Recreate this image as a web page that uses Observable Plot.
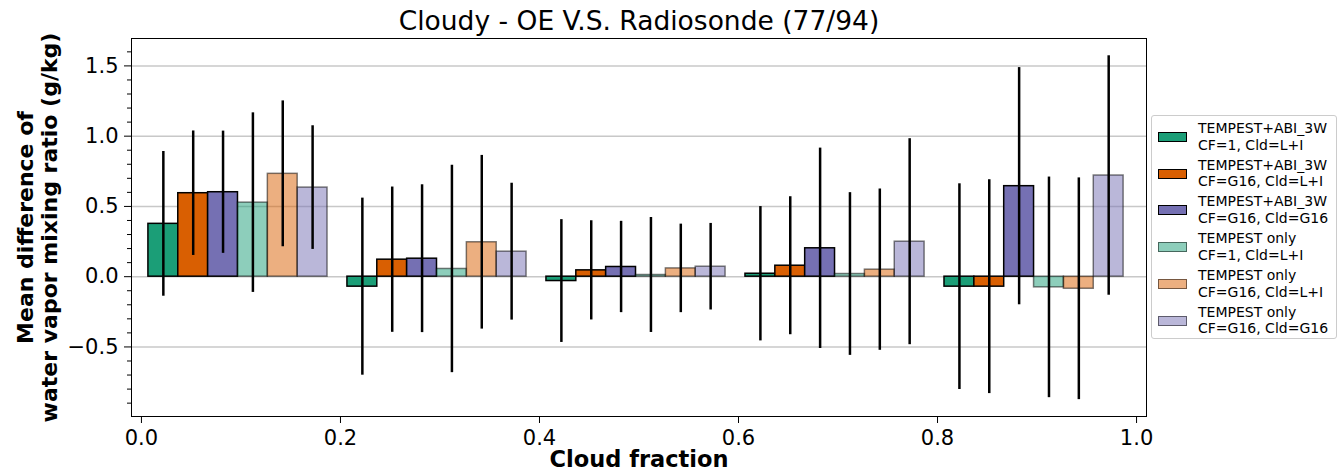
<!DOCTYPE html>
<html><head><meta charset="utf-8">
<script src="https://cdn.jsdelivr.net/npm/d3@7"></script>
<script src="https://cdn.jsdelivr.net/npm/@observablehq/plot@0.6"></script>
<style>
body{margin:0;background:#fff;font-family:"DejaVu Sans",sans-serif;}
#wrap{position:relative;width:1342px;height:473px;overflow:hidden;}
#legend{position:absolute;left:1151px;top:115px;width:186px;height:224px;border:1px solid #cccccc;border-radius:3px;box-sizing:border-box;background:#fff}
.sw{position:absolute;left:6px;width:29px;height:10px;box-sizing:border-box;}
.lbl{position:absolute;left:46px;font-size:14px;line-height:16.7px;white-space:nowrap;color:#000}
</style>
</head><body>
<div id="wrap"><div id="chart"></div><div id="legend"></div></div>
<script>
// Cloud-fraction bins (left edges)
const bins = [0.0, 0.2, 0.4, 0.6, 0.8];
const xTicks = [0.0, 0.2, 0.4, 0.6, 0.8, 1.0];
const yTicks = [-0.5, 0.0, 0.5, 1.0, 1.5];

const seriesLine1 = ["TEMPEST+ABI_3W", "TEMPEST+ABI_3W", "TEMPEST+ABI_3W", "TEMPEST only", "TEMPEST only", "TEMPEST only"];
const seriesLine2 = ["CF=1, Cld=L+I", "CF=G16, Cld=L+I", "CF=G16, Cld=G16", "CF=1, Cld=L+I", "CF=G16, Cld=L+I", "CF=G16, Cld=G16"];
const seriesColors = ["#1b9e77", "#d95f02", "#7570b3", "#1b9e77", "#d95f02", "#7570b3"];

// mean differences (g/kg), per series across bins
const meanAbiCf1Li   = [0.376, -0.071, -0.031, 0.021, -0.071];
const meanAbiG16Li   = [0.594,  0.121,  0.045, 0.078, -0.071];
const meanAbiG16G16  = [0.601,  0.128,  0.069, 0.202,  0.644];
const meanTmpCf1Li   = [0.527,  0.055,  0.012, 0.019, -0.076];
const meanTmpG16Li   = [0.732,  0.245,  0.059, 0.050, -0.086];
const meanTmpG16G16  = [0.634,  0.178,  0.071, 0.249,  0.720];
// standard deviations (error bar half-lengths)
const stdAbiCf1Li    = [0.515, 0.630, 0.437, 0.478, 0.732];
const stdAbiG16Li    = [0.443, 0.517, 0.353, 0.491, 0.761];
const stdAbiG16G16   = [0.435, 0.526, 0.325, 0.713, 0.844];
const stdTmpCf1Li    = [0.639, 0.738, 0.409, 0.579, 0.785];
const stdTmpG16Li    = [0.519, 0.618, 0.315, 0.574, 0.789];
const stdTmpG16G16   = [0.440, 0.487, 0.308, 0.733, 0.852];

const means = [meanAbiCf1Li, meanAbiG16Li, meanAbiG16G16, meanTmpCf1Li, meanTmpG16Li, meanTmpG16G16];
const stds  = [stdAbiCf1Li, stdAbiG16Li, stdAbiG16G16, stdTmpCf1Li, stdTmpG16Li, stdTmpG16G16];

const barW = 0.03, offset0 = 0.007;
const rows = [];
means.forEach((arr, i) => bins.forEach((b, j) => {
  const x1 = b + offset0 + i * barW;
  rows.push({i, x1, x2: x1 + barW, xc: x1 + barW / 2, m: arr[j], e: stds[i][j], color: seriesColors[i]});
}));
const dark = rows.filter(d => d.i < 3), light = rows.filter(d => d.i >= 3);

const minor = d3.range(-9, 17).filter(k => k % 5 !== 0).map(k => k / 10);
const fmt = d => d3.format(".1f")(d).replace("-", "\u2212");

const chart = Plot.plot({
  width: 1342, height: 473,
  marginLeft: 131, marginRight: 196, marginTop: 38, marginBottom: 57,
  style: {fontFamily: "DejaVu Sans", fontSize: "21px", color: "#000", background: "#fff"},
  x: {domain: [-0.01, 1.01]},
  y: {domain: [-0.995, 1.695]},
  marks: [
    Plot.gridY(yTicks, {stroke: "#c8c8c8", strokeOpacity: 1, strokeWidth: 1.5}),
    Plot.rectY(dark, {x1: "x1", x2: "x2", y1: 0, y2: "m", fill: "color", stroke: "#000", strokeWidth: 1.5}),
    Plot.rectY(light, {x1: "x1", x2: "x2", y1: 0, y2: "m", fill: "color", fillOpacity: 0.5, stroke: "#000", strokeOpacity: 0.5, strokeWidth: 1.5}),
    Plot.ruleX(rows, {x: "xc", y1: d => d.m - d.e, y2: d => d.m + d.e, stroke: "#000", strokeWidth: 2.5}),
    Plot.axisY(yTicks, {tickSize: 7, tickPadding: 6, tickFormat: fmt, label: null, fontSize: 21}),
    Plot.axisY(minor, {tickSize: 4, tickFormat: () => "", label: null}),
    Plot.axisX(xTicks, {tickSize: 7, tickPadding: 7, tickFormat: fmt, label: null, fontSize: 21}),
    Plot.frame({stroke: "#000", strokeWidth: 1}),
    Plot.text(["Cloudy - OE V.S. Radiosonde (77/94)"], {frameAnchor: "top", dy: -17, fontSize: 26.5, lineAnchor: "middle"}),
    Plot.text(["Cloud fraction"], {frameAnchor: "bottom", dy: 43, fontSize: 22.5, fontWeight: "bold", lineAnchor: "middle"}),
    Plot.text(["Mean difference of\nwater vapor mixing ratio (g/kg)"], {frameAnchor: "left", dx: -94, rotate: -90, fontSize: 22, fontWeight: "bold", lineHeight: 1.1, textAnchor: "middle", lineAnchor: "middle"})
  ]
});
document.getElementById("chart").appendChild(chart);

// legend
const leg = document.getElementById("legend");
seriesLine1.forEach((t, i) => {
  const cy = 21 + 36.7 * i;
  const sw = document.createElement("div");
  sw.className = "sw";
  sw.style.top = (cy - 5) + "px";
  if (i < 3) {
    sw.style.background = seriesColors[i];
    sw.style.border = "1.5px solid #000";
  } else {
    const c = d3.color(seriesColors[i]);
    sw.style.background = `rgba(${c.r},${c.g},${c.b},0.5)`;
    sw.style.border = "1.5px solid rgba(0,0,0,0.5)";
  }
  leg.appendChild(sw);
  const lb = document.createElement("div");
  lb.className = "lbl";
  lb.style.top = (cy - 17) + "px";
  lb.innerHTML = t + "<br>" + seriesLine2[i];
  leg.appendChild(lb);
});
</script>
</body></html>
